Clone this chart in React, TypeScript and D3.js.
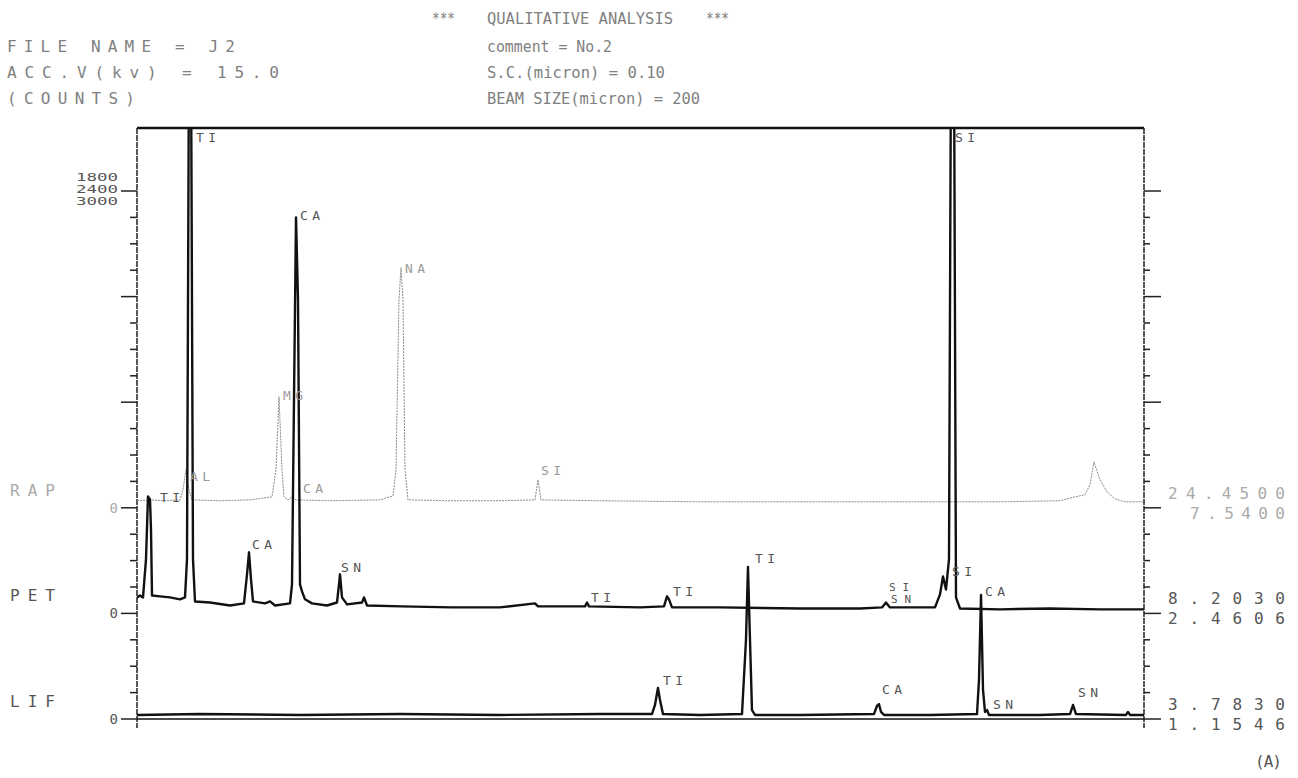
import React from 'react';
import * as d3 from 'd3';

const W = 1298, H = 778;

// wavelength ranges (Å) for each crystal
const rapRange: [number, number] = [7.54, 24.45];
const petRange: [number, number] = [2.4606, 8.203];
const lifRange: [number, number] = [1.1546, 3.783];
// full-scale counts at labelled tick
const rapFull = 1800, petFull = 2400, lifFull = 3000;
const countStep = 150;

// RAP spectrum [Å, counts]
const rapPoints: [number, number][] = [
  [7.54, 40], [7.7583, 45], [8.0102, 40], [8.2621, 45], [8.3124, 102], [8.3628, 216], [8.4132, 102],
  [8.4636, 45], [8.9337, 40], [9.4375, 45], [9.8069, 62], [9.8741, 216], [9.9245, 631], [9.9748, 216],
  [10.0084, 62], [10.0756, 45], [10.1427, 62], [10.2099, 45], [10.7809, 40], [11.6205, 45], [11.8388, 68],
  [11.8892, 216], [11.9396, 1182], [11.9731, 1364], [12.0067, 1182], [12.0403, 216], [12.0907, 45],
  [12.7959, 40], [13.6355, 40], [14.2232, 45], [14.2736, 159], [14.324, 45], [15.3147, 40], [16.9939, 34],
  [18.6731, 34], [20.3523, 34], [22.0315, 34], [23.039, 40], [23.2909, 62], [23.4588, 74], [23.5428, 131],
  [23.6099, 261], [23.7107, 159], [23.8282, 91], [23.9625, 51], [24.1305, 34], [24.45, 34],
];

// PET spectrum [Å, counts]
const petPoints: [number, number][] = [
  [2.4606, 91], [2.4777, 102], [2.4948, 91], [2.5119, 307], [2.5233, 665], [2.5347, 648], [2.5404, 477],
  [2.5461, 102], [2.5918, 97], [2.6488, 91], [2.7058, 80], [2.7343, 91], [2.7457, 307], [2.7571, 3200],
  [2.7685, 3200], [2.7799, 307], [2.7913, 68], [2.8769, 62], [2.9909, 45], [3.0708, 57], [3.0879, 222],
  [3.0993, 347], [3.1107, 193], [3.1221, 68], [3.1905, 57], [3.2191, 68], [3.2476, 45], [3.3331, 57],
  [3.3445, 165], [3.3559, 1216], [3.3673, 2250], [3.3787, 1784], [3.3901, 165], [3.4015, 125], [3.4186, 80],
  [3.4585, 57], [3.5441, 45], [3.6011, 62], [3.6125, 165], [3.6182, 222], [3.6296, 91], [3.6581, 51],
  [3.7437, 62], [3.7551, 91], [3.7722, 45], [3.9704, 40], [4.2555, 34], [4.5306, 34], [4.7302, 57],
  [4.7473, 40], [5.0153, 40], [5.0267, 62], [5.0381, 40], [5.3289, 34], [5.4658, 40], [5.4829, 97],
  [5.4943, 80], [5.5114, 34], [5.7851, 34], [6.2413, 28], [6.5835, 28], [6.7089, 34], [6.7317, 62],
  [6.7545, 34], [7.0112, 34], [7.0397, 108], [7.0568, 210], [7.0739, 136], [7.091, 307], [7.1024, 3200],
  [7.1195, 3200], [7.1309, 91], [7.1537, 28], [7.3818, 23], [7.6672, 28], [7.9519, 23], [8.203, 23],
];

// LIF spectrum [Å, counts]
const lifPoints: [number, number][] = [
  [1.1546, 23], [1.319, 28], [1.58, 23], [1.8411, 28], [2.1021, 23], [2.3631, 28], [2.4988, 28],
  [2.5066, 80], [2.5144, 176], [2.5197, 108], [2.5275, 28], [2.6241, 23], [2.7337, 28], [2.7441, 449],
  [2.7493, 864], [2.7546, 449], [2.7598, 51], [2.7676, 23], [2.8851, 23], [3.0782, 28], [3.086, 74],
  [3.0913, 85], [3.0965, 40], [3.1044, 23], [3.2244, 23], [3.3471, 28], [3.3523, 222], [3.3576, 705],
  [3.3628, 165], [3.368, 40], [3.3732, 51], [3.3785, 23], [3.5116, 23], [3.5899, 28], [3.5977, 80],
  [3.6055, 28], [3.736, 23], [3.7412, 40], [3.7464, 23], [3.783, 23],
];

// element labels [Å, counts, text]
const rapLabels: [number, number, string][] = [
  [8.43, 150, 'AL'], [9.9916, 614, 'MG'], [10.327, 85, 'CA'], [12.04, 1335, 'NA'], [14.324, 188, 'SI'],
];
const petLabels: [number, number, string][] = [
  [2.5918, 631, 'TI'], [2.7971, 2676, 'TI'], [3.1164, 364, 'CA'], [3.39, 2233, 'CA'], [3.6239, 233, 'SN'],
  [5.0496, 62, 'TI'], [5.5171, 97, 'TI'], [6.7489, 125, 'SI'], [6.7603, 57, 'SN'], [7.1081, 210, 'SI'],
  [7.1252, 2676, 'SI'],
];
const lifLabels: [number, number, string][] = [
  [2.5275, 193, 'TI'], [2.7676, 886, 'TI'], [3.0991, 142, 'CA'], [3.368, 699, 'CA'], [3.3889, 57, 'SN'],
  [3.6107, 125, 'SN'],
];

const crystalNames = ['RAP', 'PET', 'LIF'];
const fullLabels = ['1800', '2400', '3000'];
const rapEnds = ['24.4500', '7.5400'];
const petEnds = ['8.2030', '2.4606'];
const lifEnds = ['3.7830', '1.1546'];

const headerLeft = ['FILE NAME = J2', 'ACC.V(kv) =  15.0', '(COUNTS)'];
const headerRight = ['comment = No.2', 'S.C.(micron) =  0.10', 'BEAM SIZE(micron) =  200'];

const FONT = '"DejaVu Sans Mono", monospace';

export default function App() {
  const x0 = 137, x1 = 1144, yTop = 128, yTick = 191, step = 26.4;
  const zeroY = (full: number) => yTick + (full / countStep) * step;
  const mkY = (full: number) => d3.scaleLinear().domain([0, full]).range([zeroY(full), yTick]);
  const mkX = (r: [number, number]) => d3.scaleLinear().domain(r).range([x0, x1]);

  const specs = [
    { pts: rapPoints, labels: rapLabels, x: mkX(rapRange), y: mkY(rapFull), color: '#8a8a8a', width: 1, dash: '2,1', lab: '#9a9a9a' },
    { pts: petPoints, labels: petLabels, x: mkX(petRange), y: mkY(petFull), color: '#111', width: 2.4, dash: undefined, lab: '#555' },
    { pts: lifPoints, labels: lifLabels, x: mkX(lifRange), y: mkY(lifFull), color: '#111', width: 2.4, dash: undefined, lab: '#555' },
  ];

  const yLif = mkY(lifFull);
  const ticks = d3.range(0, lifFull + 1, countStep);
  const fulls = [rapFull, petFull, lifFull];
  const ends = [rapEnds, petEnds, lifEnds];

  return (
    <svg width={W} height={H} style={{ position: 'absolute', left: 0, top: 0, background: '#fff' }}>
      <defs>
        <clipPath id="plot">
          <rect x={x0} y={yTop} width={x1 - x0} height={H - yTop} />
        </clipPath>
      </defs>
      {/* header */}
      <g fontFamily={FONT} fill="#808080" fontSize={16}>
        <text x={432} y={24} textLength={23} lengthAdjust="spacingAndGlyphs">***</text>
        <text x={487} y={24} textLength={186} lengthAdjust="spacingAndGlyphs">QUALITATIVE ANALYSIS</text>
        <text x={706} y={24} textLength={23} lengthAdjust="spacingAndGlyphs">***</text>
        {headerLeft.map((t, i) => (
          <text key={'hl' + i} x={7} y={52 + i * 26} textLength={[228, 272, 128][i]} lengthAdjust="spacing">{t}</text>
        ))}
        {headerRight.map((t, i) => (
          <text key={'hr' + i} x={487} y={52 + i * 26} textLength={[125, 178, 213][i]} lengthAdjust="spacingAndGlyphs">{t}</text>
        ))}
      </g>
      {/* frame */}
      <line x1={x0} x2={x1} y1={yTop} y2={yTop} stroke="#111" strokeWidth={2.5} />
      <line x1={x0} x2={x0} y1={yTop} y2={728} stroke="#222" strokeWidth={1.5} strokeDasharray="6,1" />
      <line x1={x1} x2={x1} y1={yTop} y2={728} stroke="#222" strokeWidth={1.5} strokeDasharray="6,1" />
      <line x1={x0} x2={x1} y1={yLif(0)} y2={yLif(0)} stroke="#111" strokeWidth={1.5} />
      {ticks.map((c, i) => {
        const y = yLif(c);
        const long = i % 4 === 0;
        return (
          <g key={'t' + i} stroke="#222" strokeWidth={1.5}>
            <line x1={long ? 121 : 130} x2={x0} y1={y} y2={y} />
            <line x1={x1} x2={long ? 1161 : 1150} y1={y} y2={y} />
          </g>
        );
      })}
      {/* axis labels */}
      <g fontFamily={FONT} fontSize={10} fill="#555" textAnchor="end">
        {fullLabels.map((t, i) => (
          <text key={'fl' + i} x={118} y={181 + i * 12} textLength={42} lengthAdjust="spacingAndGlyphs">{t}</text>
        ))}
        {fulls.map((f, i) => (
          <text key={'z' + i} x={118} y={zeroY(f) + 5} fontSize={14} fill={i === 0 ? '#aaa' : '#555'}>0</text>
        ))}
      </g>
      <g fontFamily={FONT} fontSize={16}>
        {crystalNames.map((t, i) => (
          <text key={'cn' + i} x={10} y={zeroY(fulls[i]) - 12} fill={i === 0 ? '#aaa' : '#555'} textLength={45} lengthAdjust="spacing">{t}</text>
        ))}
        {ends.map((e, i) => (
          <g key={'e' + i} fill={i === 0 ? '#aaa' : '#555'}>
            <text x={1285} y={zeroY(fulls[i]) - 9} textAnchor="end" textLength={117} lengthAdjust="spacing">{e[0]}</text>
            <text x={1285} y={zeroY(fulls[i]) + 11} textAnchor="end" textLength={i === 0 ? 95 : 117} lengthAdjust="spacing">{e[1]}</text>
          </g>
        ))}
        <text x={1255} y={767} fill="#555" textLength={27} lengthAdjust="spacing">(A)</text>
      </g>
      {/* spectra */}
      <g clipPath="url(#plot)">
        {specs.map((s, i) => {
          const line = d3.line<[number, number]>().x(d => s.x(d[0])).y(d => s.y(d[1]));
          return (
            <path key={'s' + i} d={line(s.pts) || ''} fill="none" stroke={s.color} strokeWidth={s.width}
              strokeDasharray={s.dash} strokeLinejoin="round" />
          );
        })}
      </g>
      {specs.map((s, i) => (
        <g key={'l' + i} fontFamily={FONT} fontSize={13} fill={s.lab}>
          {s.labels.map((l, j) => (
            <text key={j} x={s.x(l[0])} y={s.y(l[1])} textLength={20} lengthAdjust="spacing"
              fontSize={i === 1 && (j === 7 || j === 8) ? 11 : 13}>{l[2]}</text>
          ))}
        </g>
      ))}
    </svg>
  );
}
